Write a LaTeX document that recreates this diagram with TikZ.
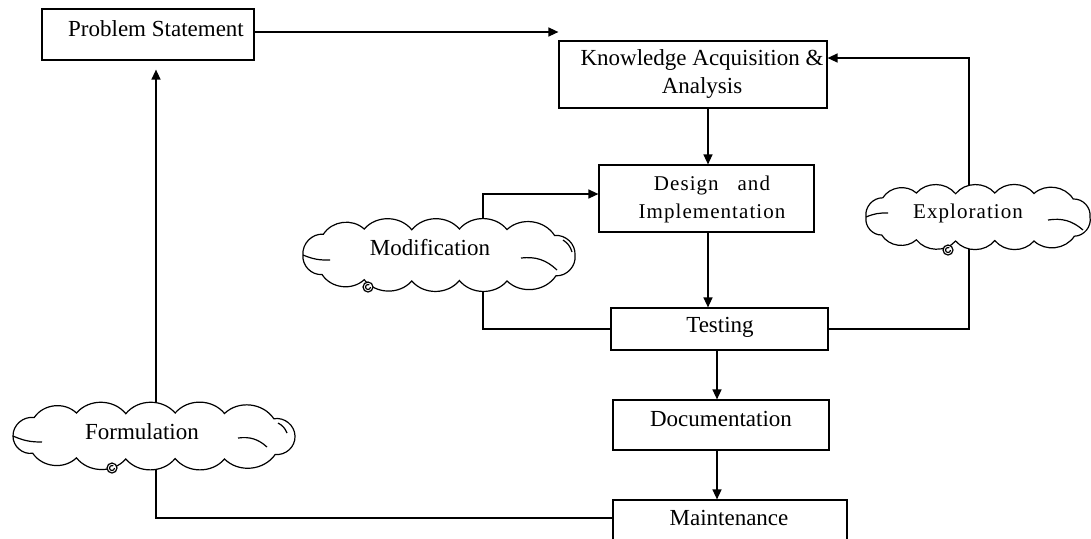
\documentclass[tikz,border=0pt]{standalone}
\usepackage{fontspec}
\setmainfont{Liberation Serif}
\usetikzlibrary{arrows.meta,fit,backgrounds}
\newcommand\puffcloud[4]{% cx, cy, rx, ry
  \filldraw[cloudline] ({#1+#3},{#2})
    \foreach \u/\v in {0.86/0.8, 0.5/1, 0.15/0.98, -0.2/1, -0.55/0.95, -0.86/0.75,
                       -1/0, -0.85/-0.8, -0.55/-1, -0.2/-0.97, 0.15/-1, 0.5/-0.98, 0.85/-0.75, 1/0}{
      to[bend left=50] ({#1+#3*\u},{#2+#4*\v})
    } -- cycle;}
\begin{document}
\begin{tikzpicture}[x=0.5pt,y=-0.5pt,
  box/.style={draw, line width=0.6pt, inner sep=0pt},
  txt/.style={font=\fontsize{11.5}{14}\selectfont, inner sep=0pt, align=center},
  spaced/.style={font=\fontsize{10.5}{14}\selectfont\addfontfeatures{LetterSpace=5}, inner sep=0pt, align=center},
  arr/.style={line width=0.7pt, -{Triangle[length=5pt,width=4.5pt]}},
  conn/.style={line width=0.6pt},
  cloudline/.style={draw, fill=white, line width=0.6pt},
  inner/.style={line width=0.6pt},
  spiral/.style={line width=0.6pt}]
\useasboundingbox (0,0) rectangle (1091,538);
\clip (0,0) rectangle (1091,538);

% boxes
\node[box, fit={(42,9) (254,60)}] (ps) {};
\node[txt] (pst) at (156,29) {Problem Statement};
\node[box, fit={(559,41) (827,108)}] (ka) {};
\node[txt] (kat) at (702,74) {Knowledge Acquisition \&\\Analysis};
\node[box, fit={(599,165) (814,232)}] (di) {};
\node[spaced] (dit) at (712,199) {Design\ \ \ and\\Implementation};
\node[box, fit={(611,308) (828,350)}] (te) {};
\node[txt] (tet) at (720,327) {Testing};
\node[box, fit={(613,400) (829,450)}] (doc) {};
\node[txt] (doct) at (721,419) {Documentation};
\node[box, fit={(613,500) (847,548)}] (ma) {};
\node[txt] (mat) at (729,518) {Maintenance};

% clouds
\puffcloud{439}{255}{136}{26}
\draw[inner] (303,255) to[bend right=12] (330,260);
\draw[inner] (521,258) to[bend left=25] (557,270);
\draw[inner] (563,240) to[bend left=20] (572,252);
\node[txt] (mo) at (430,248) {Modification};

\puffcloud{978}{217}{112}{24}
\draw[inner] (866,217) to[bend left=12] (888,213);
\draw[inner] (1048,220) to[bend left=25] (1083,230);
\node[spaced] (ex) at (968,213) {Exploration};

\puffcloud{154}{436}{141}{23}
\draw[inner] (13,436) to[bend right=12] (42,442);
\draw[inner] (238,438) to[bend left=25] (267,447);
\draw[inner] (278,423) to[bend left=20] (287,433);
\node[txt] (fo) at (142,432) {Formulation};

% small spirals
\foreach \px/\py in {368/287, 948/250, 112/468}{
  \draw[spiral, fill=white] (\px,\py) circle[radius=5];
  \draw[spiral] (\px+2.5,\py) arc[start angle=0, end angle=300, radius=2.5];
}

% main flow
\draw[arr] (ps.east |- 0,32) -- (ka.west |- 0,32);
\draw[arr] (ka.south -| 708,0) -- (di.north -| 708,0);
\draw[arr] (di.south -| 708,0) -- (te.north -| 708,0);
\draw[arr] (te.south -| 717,0) -- (doc.north -| 717,0);
\draw[arr] (doc.south -| 717,0) -- (ma.north -| 717,0);

% connectors behind clouds
\begin{scope}[on background layer]
\draw[arr] (mo.center -| 483,0) |- (di.west |- 0,194);
\draw[conn] (te.west) -| (mo.center -| 483,0);
\draw[arr] (ex.center -| 969,0) |- (ka.east |- 0,58);
\draw[conn] (te.east) -| (ex.center -| 969,0);
\draw[arr, shorten >=4.5pt] (fo.center -| 156,0) -- (ps.south -| 156,0);
\draw[conn] (ma.west |- 0,518) -| (fo.center -| 156,0);
\end{scope}
\end{tikzpicture}
\end{document}
